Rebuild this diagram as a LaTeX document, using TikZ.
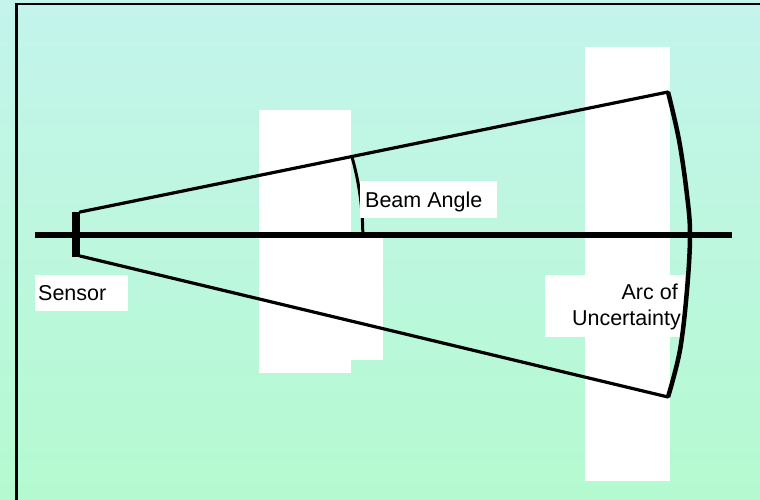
\documentclass[tikz,border=0pt]{standalone}
\usepackage{fontspec}
\setmainfont{Liberation Sans}
\definecolor{bgtop}{HTML}{C4F4EC}
\definecolor{bgbot}{HTML}{B4FAD0}
\begin{document}
\begin{tikzpicture}[x=1pt,y=-1pt,
  wbox/.style={fill=white,draw=none},
  beam/.style={line width=3.2pt,line cap=round,line join=round},
  lbl/.style={inner sep=0pt,font=\fontsize{21.5}{26}\selectfont}]
\shade[top color=bgtop,bottom color=bgbot] (0,0) rectangle (760,500);
\useasboundingbox (0,0) rectangle (760,500);
% frame
\draw[line width=2.6pt] (16.3,500) -- (16.3,4.2) -- (760,4.2);
% white panels
\fill[wbox] (259,110) rectangle (351,373);
\fill[wbox] (259,237) rectangle (383,360);
\fill[wbox] (585,47) rectangle (670,481);
\fill[wbox] (35,275) rectangle (128,311);
% named points
\coordinate (sTop) at (80,212);
\coordinate (sBot) at (80,256);
\coordinate (eTop) at (668,92);
\coordinate (eBot) at (668,397);
\coordinate (axL) at (35,235);
\coordinate (axR) at (732,235);
% axis and sensor
\draw[line width=5.5pt] (axL) -- (axR);
\fill (72,212) rectangle (80,257);
% beam edges
\draw[beam] (sTop) -- (eTop);
\draw[beam] (sBot) -- (eBot);
% beam angle arc
\draw[line width=3pt] (352,157) arc[start angle=-15.78,end angle=0,radius=286];
% labels
\fill[wbox] (360,181) rectangle (497,218);
\node[lbl,anchor=base west] (beam) at (365,207) {Beam Angle};
\fill[wbox] (545,275) rectangle (685,337);
\node[lbl,anchor=base east] (arc1) at (678,299) {Arc of};
\node[lbl,anchor=base east] (arc2) at (681,325) {Uncertainty};
\node[lbl,anchor=base west] (sensor) at (38,300) {Sensor};
% arc of uncertainty
\draw[line width=4.5pt,line join=round] plot[smooth,tension=0.6] coordinates
  {(668,92) (679,140) (687,195) (690,235) (687,290) (680,350) (668,397)};
\end{tikzpicture}
\end{document}
